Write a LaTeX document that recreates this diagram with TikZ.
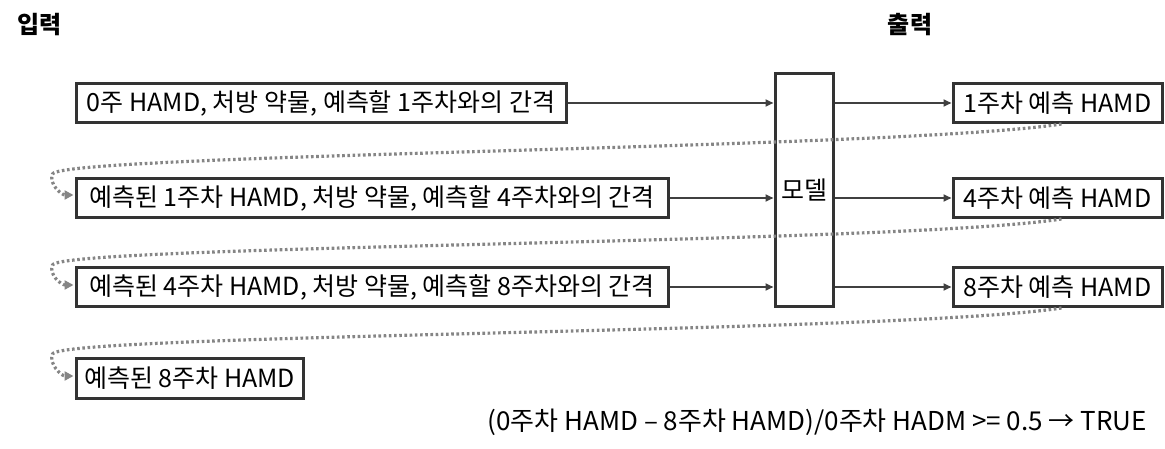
\documentclass[tikz,border=0pt]{standalone}
\usepackage{fontspec}
\setmainfont{Noto Sans CJK KR}
\usetikzlibrary{arrows.meta,calc}
\definecolor{boxline}{HTML}{333333}
\definecolor{arrowline}{HTML}{404040}
\definecolor{dotline}{HTML}{858585}
\tikzset{
  inbox/.style={draw=boxline, line width=3pt, minimum height=39pt, inner sep=0pt, font=\fontsize{25}{28}\selectfont},
  modelbox/.style={draw=boxline, line width=3pt, minimum width=58pt, minimum height=232pt, inner sep=0pt, font=\fontsize{25}{28}\selectfont},
  title/.style={font=\fontsize{24}{28}\selectfont\bfseries, inner sep=0pt},
  flow/.style={draw=arrowline, line width=2.4pt, -{Triangle[length=8pt,width=7pt]}},
  feedback/.style={draw=dotline, line width=3.2pt, dash pattern=on 2.6pt off 2.6pt, -{Triangle[length=9pt,width=9pt]}},
}
\begin{document}
\begin{tikzpicture}[x=1pt,y=-1pt]
\useasboundingbox (0,0) rectangle (1165,449);
% titles
\node[title] (tin) at (40,25) {입력};
\node[title] (tout) at (910,25) {출력};
% input boxes
\node[inbox, minimum width=490pt] (b1) at (321,103) {0주 HAMD, 처방 약물, 예측할 1주차와의 간격};
\node[inbox, minimum width=592pt] (b2) at (372,198) {예측된 1주차 HAMD, 처방 약물, 예측할 4주차와의 간격};
\node[inbox, minimum width=592pt] (b3) at (372,287) {예측된 4주차 HAMD, 처방 약물, 예측할 8주차와의 간격};
\node[inbox, minimum width=227pt, minimum height=40pt] (b4) at (189.5,378) {예측된 8주차 HAMD};
% model
\node[modelbox] (m) at (804,190) {모델};
% output boxes
\node[inbox, minimum width=209pt] (o1) at (1057.5,103) {1주차 예측 HAMD};
\node[inbox, minimum width=209pt] (o2) at (1057.5,198) {4주차 예측 HAMD};
\node[inbox, minimum width=209pt] (o3) at (1057.5,287) {8주차 예측 HAMD};
% flows
\draw[flow] (b1.east) -- (b1.east -| m.west);
\draw[flow] (b2.east) -- (b2.east -| m.west);
\draw[flow] (b3.east) -- (b3.east -| m.west);
\draw[flow] (o1.west -| m.east) -- (o1.west);
\draw[flow] (o2.west -| m.east) -- (o2.west);
\draw[flow] (o3.west -| m.east) -- (o3.west);
% feedback loops
\draw[feedback] ([xshift=4pt]o1.south) .. controls +(-162,25) and +(8,-20) .. ($(b2.west)+(-22,-24)$) .. controls +(-4,10) and +(-12,0) .. ($(b2.west)+(-1,-3)$);
\draw[feedback] ([xshift=4pt]o2.south) .. controls +(-162,25) and +(8,-20) .. ($(b3.west)+(-22,-22)$) .. controls +(-4,10) and +(-12,0) .. ($(b3.west)+(-1,-2)$);
\draw[feedback] ([xshift=4pt]o3.south) .. controls +(-162,25) and +(8,-20) .. ($(b4.west)+(-22,-24)$) .. controls +(-4,10) and +(-12,0) .. ($(b4.west)+(-1,-2)$);
% condition
\node[font=\fontsize{26}{30}\selectfont, inner sep=0pt, anchor=east] (cond) at (1147,422) {(0주차 HAMD – 8주차 HAMD)/0주차 HADM >= 0.5 → TRUE};
\end{tikzpicture}
\end{document}
